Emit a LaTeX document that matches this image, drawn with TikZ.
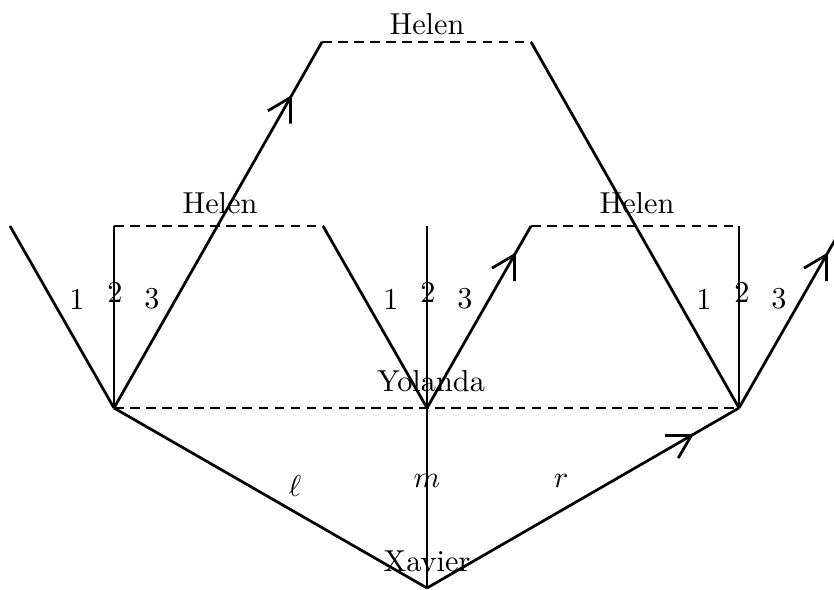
\documentclass[tikz,border=0pt]{standalone}
\usetikzlibrary{decorations.markings,arrows.meta}
\begin{document}
\begin{tikzpicture}[x=0.33pt,y=-0.33pt,
  edge/.style={line width=0.9pt},
  info/.style={line width=0.9pt,dash pattern=on 3.2pt off 2.1pt},
  midarrow/.style={postaction={decorate},decoration={markings,mark=at position 0.855 with {\arrow[line width=0.9pt]{Straight Barb[length=7.5pt,width=8.6pt]}}}},
  lbl/.style={inner sep=0pt}]
\useasboundingbox (0,0) rectangle (834,590);
% decision points
\coordinate (X) at (427,588);
\coordinate (L) at (114,408);
\coordinate (M) at (427,408);
\coordinate (R) at (739,408);
\coordinate (L1) at (10,226);
\coordinate (L2) at (114,226);
\coordinate (L3) at (322,42);
\coordinate (M1) at (323,226);
\coordinate (M2) at (427,226);
\coordinate (M3) at (531,226);
\coordinate (R1) at (531,42);
\coordinate (R2) at (739,226);
\coordinate (R3) at (843,226);
% edges
\draw[edge] (X) -- (L);
\draw[edge] (X) -- (M);
\draw[edge,midarrow] (X) -- (R);
\draw[edge] (L) -- (L1);
\draw[edge] (L) -- (L2);
\draw[edge,midarrow] (L) -- (L3);
\draw[edge] (M) -- (M1);
\draw[edge] (M) -- (M2);
\draw[edge,midarrow] (M) -- (M3);
\draw[edge] (R) -- (R1);
\draw[edge] (R) -- (R2);
\draw[edge,midarrow] (R) -- (R3);
% information sets
\draw[info] (L) -- (R);
\draw[info] (L2) -- (M1);
\draw[info] (M3) -- (R2);
\draw[info] (L3) -- (R1);
% labels
\node[lbl] (hTop) at (427,24) {Helen};
\node[lbl] (hL) at (220,203) {Helen};
\node[lbl] (hR) at (637,203) {Helen};
\node[lbl] (yol) at (431,381) {Yolanda};
\node[lbl] (xav) at (427,561) {Xavier};
\node[lbl] (ell) at (295,486) {$\ell$};
\node[lbl] (mm) at (427,481) {$m$};
\node[lbl] (rr) at (561,481) {$r$};
\node[lbl] (l1) at (77,299) {1};
\node[lbl] (l2) at (115,292) {2};
\node[lbl] (l3) at (152,299) {3};
\node[lbl] (m1) at (391,299) {1};
\node[lbl] (m2) at (428,292) {2};
\node[lbl] (m3) at (465,299) {3};
\node[lbl] (r1) at (704,299) {1};
\node[lbl] (r2) at (742,292) {2};
\node[lbl] (r3) at (779,299) {3};
\end{tikzpicture}
\end{document}
